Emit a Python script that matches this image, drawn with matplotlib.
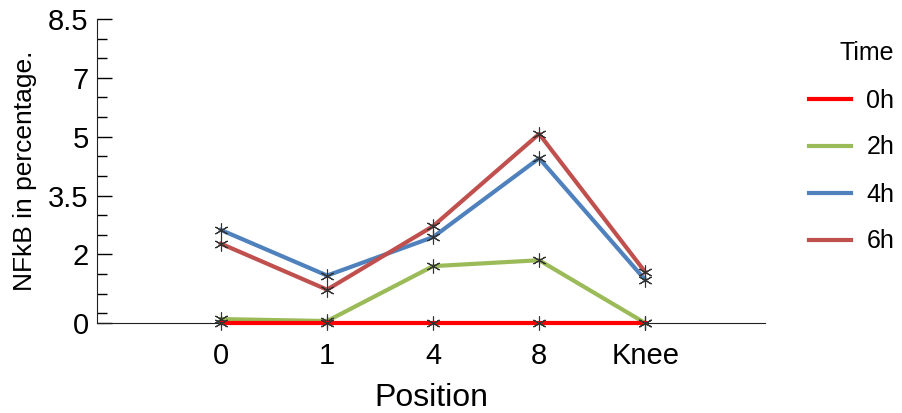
import matplotlib
matplotlib.use("Agg")
import matplotlib.pyplot as plt
import numpy as np

plt.rcParams["font.family"] = ["Liberation Sans", "DejaVu Sans"]

positions = ["0", "1", "4", "8", "Knee"]
series_names = ["0h", "2h", "4h", "6h"]
vals_0h = [0.0, 0.0, 0.0, 0.0, 0.0]
vals_2h = [0.1, 0.05, 1.45, 1.6, 0.0]
vals_4h = [2.37, 1.21, 2.19, 4.2, 1.1]
vals_6h = [2.02, 0.85, 2.47, 4.82, 1.3]
colors = ["#ff0000", "#9bbb59", "#4f81bd", "#c0504d"]

# axis units: one minor tick = 0.5
ytick_pos = [0, 1.75, 3.25, 4.75, 6.25, 7.75]
ytick_labels = ["0", "2", "3.5", "5", "7", "8.5"]

fig = plt.figure(figsize=(9.03, 4.13), dpi=100)
ax = fig.add_axes([97 / 903, 90 / 413, 668 / 903, 304 / 413])

x = np.arange(len(positions))
asterisk = (6, 2, 0)
for vals, name, c in zip([vals_2h, vals_4h, vals_6h, vals_0h], ["2h", "4h", "6h", "0h"],
                         [colors[1], colors[2], colors[3], colors[0]]):
    ax.plot(x, vals, color=c, lw=3, label=name, zorder=3, clip_on=False,
            marker=asterisk, ms=10, mec="#333333", mew=0.8)

ax.set_xlim(-1.17, 5.13)
ax.set_ylim(0, 7.75)
ax.set_xticks(x)
ax.set_xticklabels(positions, fontsize=21)
ax.tick_params(axis="x", length=0, pad=14)
ax.set_yticks(ytick_pos)
ax.set_yticklabels(ytick_labels, fontsize=21)
ax.set_yticks(np.arange(0.25, 7.75, 0.5), minor=True)
ax.tick_params(axis="y", which="major", direction="in", length=11, width=1, pad=6)
ax.tick_params(axis="y", which="minor", direction="in", length=7, width=1)
for s in ["top", "right"]:
    ax.spines[s].set_visible(False)
ax.spines["left"].set_color("#222222")
ax.spines["bottom"].set_color("#222222")

ax.set_xlabel("Position", fontsize=23, labelpad=9)
ax.set_ylabel("NFkB in percentage.", fontsize=19, labelpad=8)

handles, labels = ax.get_legend_handles_labels()
order = [labels.index(n) for n in series_names]
leg = fig.legend([handles[i] for i in order], [labels[i] for i in order],
                 title="Time", loc="upper right", bbox_to_anchor=(917 / 903, 1 - 19 / 413),
                 frameon=False, fontsize=18, title_fontsize=18,
                 handlelength=1.7, handletextpad=0.6, labelspacing=0.92)
leg._legend_box.align = "right"
for h in leg.legend_handles:
    h.set_marker("")

plt.savefig("out.png", dpi=100)
